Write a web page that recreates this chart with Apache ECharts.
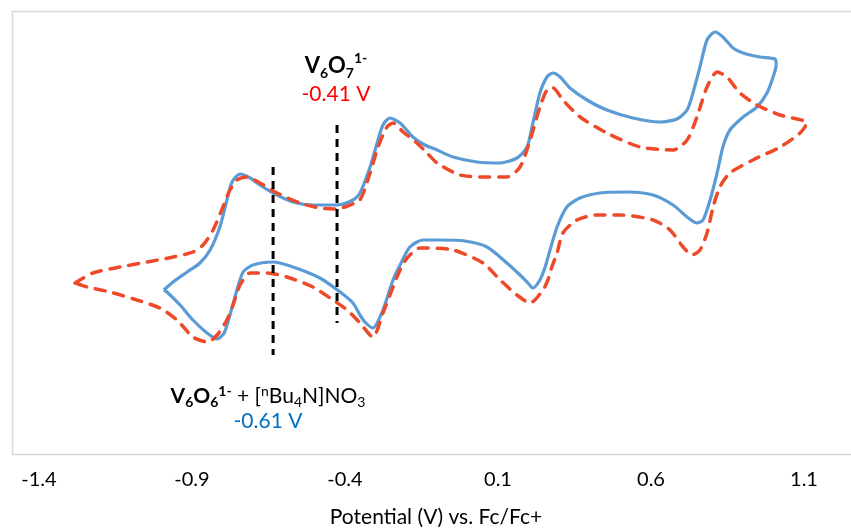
<!DOCTYPE html>
<html>
<head>
<meta charset="utf-8">
<script src="https://cdn.jsdelivr.net/npm/echarts@6/dist/echarts.min.js"></script>
<style>html,body{margin:0;padding:0;background:#fff}#c{width:851px;height:529px}</style>
</head>
<body>
<div id="c"></div>
<script>
// Potential (V vs Fc/Fc+) and current (arbitrary units)
var blueE = [-0.992,-0.962,-0.916,-0.874,-0.841,-0.809,-0.786,-0.769,-0.743,-0.710,-0.678,-0.635,-0.570,-0.505,-0.426,-0.374,-0.351,-0.318,-0.295,-0.276,-0.253,-0.220,-0.178,-0.139,-0.099,-0.047,0.031,0.107,0.162,0.195,0.214,0.237,0.260,0.280,0.303,0.335,0.391,0.456,0.541,0.629,0.685,0.718,0.737,0.760,0.783,0.809,0.835,0.868,0.901,0.956,1.005,1.009,0.999,0.979,0.946,0.901,0.858,0.835,0.816,0.793,0.770,0.750,0.718,0.672,0.607,0.522,0.433,0.368,0.325,0.293,0.270,0.254,0.237,0.214,0.195,0.172,0.129,0.064,-0.008,-0.090,-0.145,-0.188,-0.220,-0.243,-0.276,-0.309,-0.335,-0.351,-0.374,-0.416,-0.482,-0.570,-0.635,-0.701,-0.733,-0.753,-0.776,-0.795,-0.818,-0.851,-0.897,-0.939,-0.982,-0.992];
var blueI = [-5.7,-4.9,-3.9,-3.0,-1.7,0.6,3.3,5.1,5.9,5.5,4.8,4.0,3.1,2.8,2.8,3.3,4.0,6.6,9.0,10.8,11.5,11.0,9.6,8.8,8.3,7.6,7.1,7.0,7.5,8.6,11.0,14.0,15.6,16.0,15.6,14.5,13.3,12.3,11.5,11.1,11.4,12.3,14.0,16.6,19.3,20.1,19.6,18.5,18.0,17.6,17.4,16.8,15.6,14.0,12.6,11.6,10.3,8.6,6.0,3.3,1.3,1.0,1.6,2.8,3.8,4.1,4.0,3.5,2.6,0.6,-1.7,-3.4,-4.7,-5.5,-4.9,-4.2,-3.0,-1.4,-0.8,-0.7,-0.7,-1.4,-3.2,-4.7,-7.7,-9.5,-8.9,-8.2,-7.0,-5.9,-4.5,-3.4,-2.9,-3.2,-3.9,-5.7,-8.2,-10.0,-10.6,-10.0,-8.7,-7.2,-5.9,-5.7];

var redE = [-1.282,-1.224,-1.135,-1.047,-0.962,-0.897,-0.864,-0.831,-0.799,-0.776,-0.753,-0.720,-0.678,-0.622,-0.547,-0.482,-0.426,-0.384,-0.351,-0.318,-0.292,-0.263,-0.243,-0.210,-0.165,-0.132,-0.099,-0.024,0.064,0.129,0.172,0.205,0.237,0.260,0.280,0.312,0.368,0.456,0.564,0.672,0.718,0.750,0.783,0.816,0.848,0.891,0.946,1.022,1.110,1.087,1.022,0.933,0.858,0.825,0.803,0.783,0.760,0.734,0.705,0.662,0.607,0.499,0.424,0.358,0.312,0.293,0.276,0.263,0.247,0.205,0.162,0.107,0.051,-0.047,-0.155,-0.197,-0.220,-0.243,-0.276,-0.309,-0.351,-0.393,-0.439,-0.505,-0.590,-0.655,-0.710,-0.743,-0.766,-0.786,-0.818,-0.848,-0.897,-0.949,-1.005,-1.080,-1.168,-1.243,-1.282];
var redI = [-5.0,-4.0,-3.4,-2.9,-2.4,-1.9,-1.2,0.3,2.6,4.3,5.3,5.6,5.0,4.0,3.0,2.5,2.4,2.8,3.3,6.0,8.6,10.6,11.0,10.1,9.0,8.0,7.0,5.8,5.6,5.6,6.6,9.3,12.6,14.3,14.5,13.3,11.6,10.0,8.6,8.3,9.3,11.6,14.6,16.1,15.6,14.0,12.8,11.8,11.0,10.0,8.6,7.3,6.0,4.6,2.6,0.0,-1.7,-2.2,-1.4,0.3,1.3,1.8,1.8,1.3,0.0,-2.0,-3.4,-4.7,-5.7,-7.0,-6.2,-4.7,-3.0,-1.7,-1.5,-2.5,-3.7,-5.4,-8.0,-10.4,-9.0,-7.7,-6.7,-5.4,-4.4,-4.0,-4.0,-5.2,-7.2,-8.7,-10.2,-10.9,-10.4,-8.7,-7.5,-6.7,-5.9,-5.4,-5.0];

// Vertical marker lines (potential, current span)
var marker1E = [-0.635, -0.635];
var marker1I = [6.6, -12.2];
var marker2E = [-0.426, -0.426];
var marker2I = [10.8, -9.0];

var xTicks = [-1.4, -0.9, -0.4, 0.1, 0.6, 1.1];
var xTitle = 'Potential (V) vs. Fc/Fc+';

function pairs(a, b) { return a.map(function (v, i) { return [v, b[i]]; }); }

var chart = echarts.init(document.getElementById('c'), null, { renderer: 'canvas' });
var FONT = 'Lato, "Noto Sans", sans-serif';

chart.setOption({
  animation: false,
  backgroundColor: '#ffffff',
  grid: { left: 39, right: 47, top: 11, bottom: 74 },
  xAxis: {
    type: 'value', min: xTicks[0], max: xTicks[xTicks.length - 1], interval: 0.5,
    axisLine: { show: false }, axisTick: { show: false }, splitLine: { show: false },
    axisLabel: {
      margin: 15, color: '#000', fontSize: 20, fontFamily: FONT,
      formatter: function (v) { return v.toFixed(1); }
    }
  },
  yAxis: {
    type: 'value', min: -22.2, max: 22.2, show: false, splitLine: { show: false }
  },
  graphic: [
    { type: 'rect', z: -1, silent: true,
      shape: { x: 12.5, y: 11.5, width: 860, height: 443 },
      style: { fill: 'none', stroke: '#d9d9d9', lineWidth: 1.5 } },
    { type: 'text', x: 436, y: 507,
      style: { text: xTitle, font: '21px ' + FONT, fill: '#000', align: 'center', verticalAlign: 'top' } },
    { type: 'text', x: 336, y: 51,
      style: {
        text: '{b|V}{bs|6}{b|O}{bs|7}{bsup|1-}\n{r|-0.41 V}',
        align: 'center', verticalAlign: 'top',
        rich: {
          b: { fontFamily: FONT, fontSize: 22, fontWeight: 'bold', fill: '#000', lineHeight: 29 },
          bs: { fontFamily: FONT, fontSize: 14, fontWeight: 'bold', fill: '#000', lineHeight: 14, verticalAlign: 'bottom' },
          bsup: { fontFamily: FONT, fontSize: 14, fontWeight: 'bold', fill: '#000', lineHeight: 14, verticalAlign: 'top' },
          r: { fontFamily: FONT, fontSize: 21, fill: '#ff0000', lineHeight: 29 }
        }
      } },
    { type: 'text', x: 268, y: 384,
      style: {
        text: '{b|V}{bs|6}{b|O}{bs|6}{bsup|1-}{n| + [}{sup|n}{n|Bu}{sub|4}{n|N]NO}{sub|3}\n{bl|-0.61 V}',
        align: 'center', verticalAlign: 'top',
        rich: {
          b: { fontFamily: FONT, fontSize: 21, fontWeight: 'bold', fill: '#000', lineHeight: 25 },
          bs: { fontFamily: FONT, fontSize: 14, fontWeight: 'bold', fill: '#000', lineHeight: 12, verticalAlign: 'bottom' },
          bsup: { fontFamily: FONT, fontSize: 14, fontWeight: 'bold', fill: '#000', lineHeight: 11, verticalAlign: 'top' },
          n: { fontFamily: FONT, fontSize: 21, fill: '#000', lineHeight: 25 },
          sub: { fontFamily: FONT, fontSize: 14, fill: '#000', lineHeight: 12, verticalAlign: 'bottom' },
          sup: { fontFamily: FONT, fontSize: 14, fill: '#000', lineHeight: 11, verticalAlign: 'top' },
          bl: { fontFamily: FONT, fontSize: 21, fill: '#0070c0', lineHeight: 25 }
        }
      } }
  ],
  series: [
    { type: 'line', data: pairs(blueE, blueI), showSymbol: false, smooth: 0.25, z: 2,
      lineStyle: { color: '#5b9bd5', width: 3.2 } },
    { type: 'line', data: pairs(redE, redI), showSymbol: false, smooth: 0.25, z: 3,
      lineStyle: { color: '#ee4a2a', width: 3.5, type: [10, 9], cap: 'round' } },
    { type: 'line', data: pairs(marker1E, marker1I), showSymbol: false, z: 4,
      lineStyle: { color: '#000', width: 3, type: [8, 6] } },
    { type: 'line', data: pairs(marker2E, marker2I), showSymbol: false, z: 4,
      lineStyle: { color: '#000', width: 3, type: [8, 6] } }
  ]
});
</script>
</body>
</html>
